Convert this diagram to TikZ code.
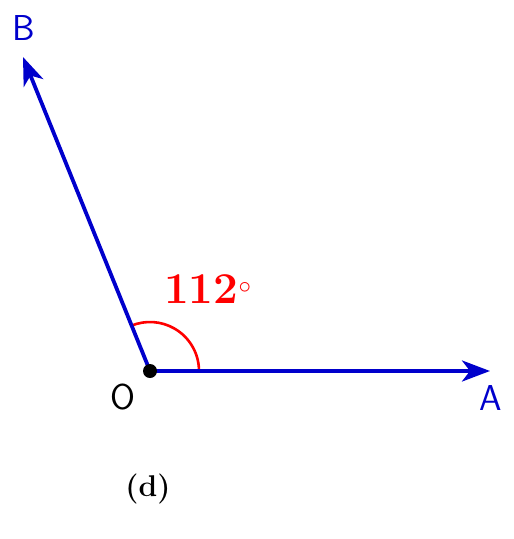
\documentclass[tikz,border=0pt]{standalone}
\usepackage{fontspec}
\usetikzlibrary{arrows.meta}
\definecolor{vecblue}{RGB}{0,0,204}
\begin{document}
\begin{tikzpicture}[x=1pt,y=-1pt,
  vec/.style={vecblue,line width=3.8pt,-{Stealth[length=28pt,width=21pt,inset=8pt]}},
  lbl/.style={vecblue,font=\sffamily\fontsize{36}{40}\selectfont,inner sep=0pt}]
\useasboundingbox (0,0) rectangle (514,539);
\coordinate (O) at (150,371);
\coordinate (A) at (490,371);
\coordinate (B) at (23,57);
\draw[red,line width=2.6pt] (199,371) arc[start angle=0,end angle=-112,radius=49];
\draw[vec] (O) -- (A);
\draw[vec] (O) -- (B);
\fill (O) circle[radius=7];
\node[lbl] (lA) at (491,398) {A};
\node[lbl] (lB) at (24,28) {B};
\node[lbl,black] (lO) at (123,397) {O};
\node[red,font=\bfseries\fontsize{44}{48}\selectfont,inner sep=0pt,anchor=base west] (ang) at (164,303) {112$^\circ$};
\node[font=\bfseries\fontsize{30}{34}\selectfont,inner sep=0pt,anchor=base] (cap) at (148,496) {(d)};
\end{tikzpicture}
\end{document}
